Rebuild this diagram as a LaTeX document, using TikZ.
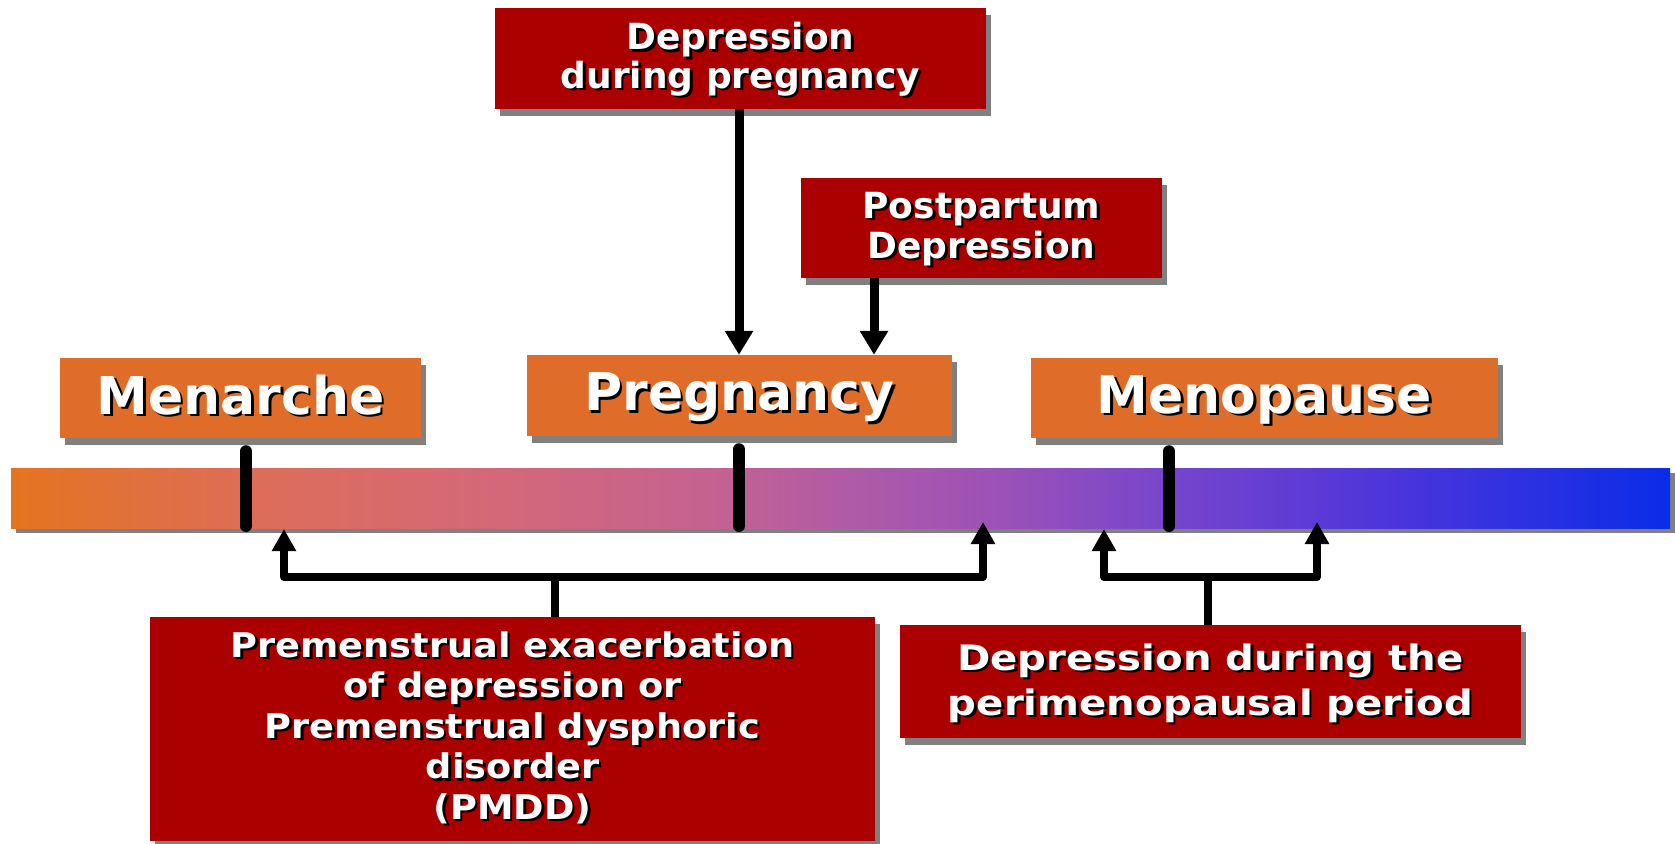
\documentclass[tikz,border=0pt]{standalone}
\usepackage{fontspec}
\setmainfont{DejaVu Sans}
\newfontfamily\perifont[FakeStretch=1.15]{DejaVu Sans}
\newfontfamily\pmddfont[FakeStretch=1.08]{DejaVu Sans}
\usetikzlibrary{arrows.meta,shadows}
\definecolor{boxred}{HTML}{AA0000}
\definecolor{boxorange}{HTML}{DF6C28}
\definecolor{shadowgray}{HTML}{808080}
\definecolor{barA}{HTML}{E57420}
\definecolor{barB}{HTML}{DD6D5A}
\definecolor{barC}{HTML}{D3687A}
\definecolor{barD}{HTML}{C56290}
\definecolor{barE}{HTML}{B15BA5}
\definecolor{barF}{HTML}{9A51B8}
\definecolor{barG}{HTML}{7645CD}
\definecolor{barH}{HTML}{5036DA}
\definecolor{barI}{HTML}{0A2CE8}
\pgfdeclarehorizontalshading{timeline}{100bp}{color(0bp)=(barA); color(25bp)=(barA);
  color(32.5bp)=(barB); color(40bp)=(barC); color(46bp)=(barD); color(50bp)=(barE);
  color(55bp)=(barF); color(60bp)=(barG); color(66bp)=(barH); color(75bp)=(barI); color(100bp)=(barI)}
% white text with a black drop shadow, optionally lowered
\newcommand\shtxt[2][0pt]{\leavevmode\raisebox{-#1}[\height][\depth]{\rlap{\kern2.5pt\raisebox{-2.5pt}{\color{black}#2}}#2}}

\begin{document}
\begin{tikzpicture}[x=1pt,y=-1pt,
    redbox/.style={fill=boxred,text=white,align=center,inner sep=0pt,
      drop shadow={fill=shadowgray,opacity=1,shadow xshift=5pt,shadow yshift=-7pt}},
    orangebox/.style={fill=boxorange,text=white,inner sep=0pt,minimum height=80pt,
      font=\bfseries\fontsize{52}{56}\selectfont,
      drop shadow={fill=shadowgray,opacity=1,shadow xshift=5pt,shadow yshift=-7pt}},
    bar/.style={inner sep=0pt,minimum width=1659pt,minimum height=60pt,shading=timeline,
      drop shadow={fill=shadowgray,opacity=1,shadow xshift=5pt,shadow yshift=-5pt}},
    tick/.style={line width=12pt,line cap=round,shorten <=13pt,shorten >=2pt},
    bigarrow/.style={line width=9pt,-{Triangle[width=27pt,length=24pt]}},
    bracket/.style={line width=8pt,line join=round,
      {Triangle[width=23pt,length=22pt]}-{Triangle[width=23pt,length=22pt]}},
    stem/.style={line width=8pt}]
    \useasboundingbox (0,0) rectangle (1675,843);
    % timeline
    \node[bar] at (840.5,498) (timeline) {};
    % stages
    \node[orangebox,minimum width=361pt] at (240.5,398) (menarche) {\shtxt[-2pt]{Menarche}};
    \node[orangebox,minimum width=425pt,minimum height=81pt] at (739.5,395.5) (preg) {\shtxt[3pt]{Pregnancy}};
    \node[orangebox,minimum width=467pt] at (1264.5,398) (menopause) {\shtxt[3pt]{Menopause}};
    % depressions
    \node[redbox,minimum width=491pt,minimum height=101pt,font=\bfseries\fontsize{36}{37}\selectfont]
      at (740.5,58.5) (pregdep) {\shtxt[2pt]{Depression}\\\shtxt[2pt]{during pregnancy}};
    \node[redbox,minimum width=361pt,minimum height=100pt,font=\bfseries\fontsize{36}{40}\selectfont]
      at (981.5,228) (postpart) {\shtxt[2pt]{Postpartum}\\\shtxt[2pt]{Depression}};
    \node[redbox,minimum width=725pt,minimum height=224pt,font=\pmddfont\bfseries\fontsize{34}{40.5}\selectfont]
      at (512.5,729) (pmdd) {\shtxt{Premenstrual exacerbation}\\\shtxt{of depression or}\\
      \shtxt{Premenstrual dysphoric}\\\shtxt{disorder}\\\shtxt{(PMDD)}};
    \node[redbox,minimum width=621pt,minimum height=113pt,font=\perifont\bfseries\fontsize{35}{45}\selectfont]
      at (1210.5,681.5) (perimeno) {\shtxt[3pt]{Depression during the}\\\shtxt[3pt]{perimenopausal period}};
    % ticks on the timeline
    \coordinate (t1) at (246,528);
    \coordinate (t2) at (739,528);
    \coordinate (t3) at (1169,528);
    \draw[tick] (t1 |- menarche.south) -- (t1);
    \draw[tick] (t2 |- preg.south) -- (t2);
    \draw[tick] (t3 |- menopause.south) -- (t3);
    % arrows down
    \coordinate (ppin) at (874,0);
    \draw[bigarrow] (pregdep.south -| t2) -- (preg.north -| t2);
    \draw[bigarrow] (ppin |- postpart.south) -- (ppin |- preg.north);
    % arrows up
    \coordinate (pmA) at (284,529);
    \coordinate (pmB) at (983,522);
    \coordinate (pmjoin) at (555,577);
    \draw[stem] (pmdd.north -| pmjoin) -- (pmjoin);
    \draw[bracket] (pmA) |- (pmjoin) -| (pmB);
    \coordinate (peA) at (1104,529);
    \coordinate (peB) at (1317,522);
    \coordinate (pejoin) at (1208,577);
    \draw[stem] (perimeno.north -| pejoin) -- (pejoin);
    \draw[bracket] (peA) |- (pejoin) -| (peB);
\end{tikzpicture}
\end{document}
